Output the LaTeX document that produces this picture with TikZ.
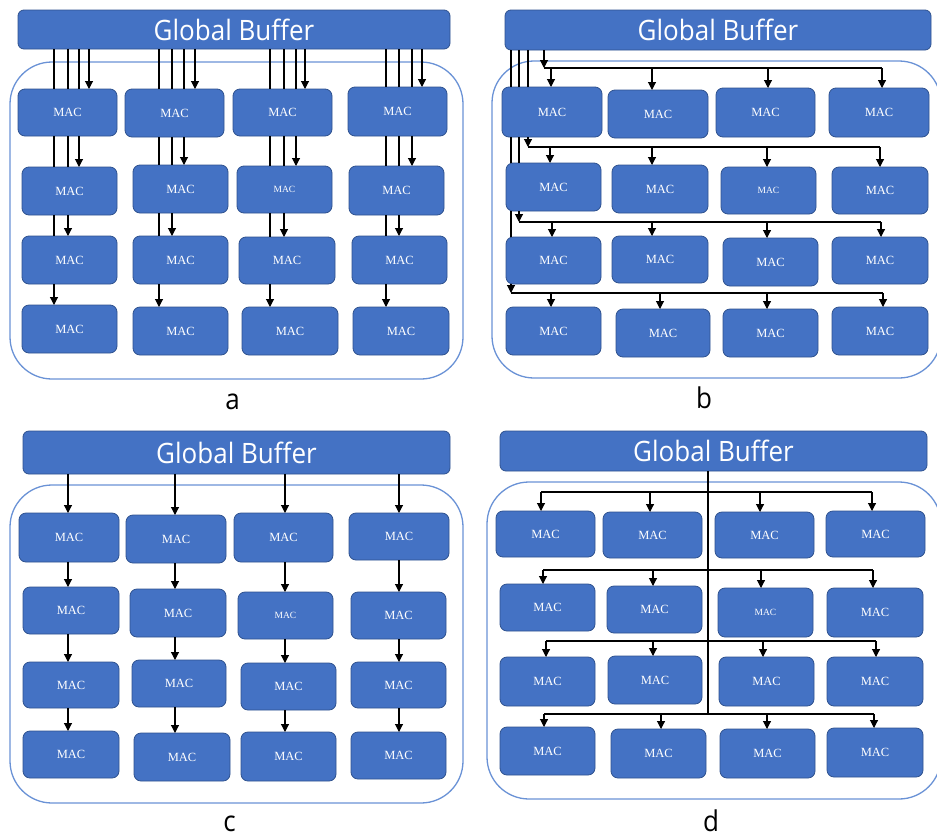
\documentclass[tikz,border=0pt]{standalone}
\usepackage{fontspec}
\setmainfont{Liberation Serif}
\newfontfamily\uisans{Open Sans}
\usetikzlibrary{arrows.meta}

\definecolor{macblue}{HTML}{4472C4}
\definecolor{macedge}{HTML}{2F528F}
\definecolor{framecol}{HTML}{6A92D6}

\tikzset{
  mac/.style={draw=macedge, line width=0.8pt, fill=macblue, rounded corners=7pt,
    text=white, inner sep=0pt, outer sep=0pt, font=\fontsize{12.5}{14}\selectfont},
  smallmac/.style={font=\fontsize{9.5}{11}\selectfont},
  gbuf/.style={draw=macedge, line width=0.8pt, fill=macblue, rounded corners=6pt,
    text=white, inner sep=0pt, outer sep=0pt},
  array frame/.style={draw=framecol, line width=1.3pt, rounded corners=42pt},
  wire/.style={draw=black, line width=1.1pt},
  feed/.style={wire, -{Triangle[width=8pt,length=8pt]}},
  panel label/.style={inner sep=0pt, anchor=base},
}

% MAC box from its corner coordinates: name, x1, y1, x2, y2
\newcommand\macnode[6][]{%
  \pgfmathsetmacro\mw{#5-#3}\pgfmathsetmacro\mh{#6-#4}%
  \pgfmathsetmacro\mx{(#3+#5)/2}\pgfmathsetmacro\my{(#4+#6)/2}%
  \node[mac,minimum width=\mw pt,minimum height=\mh pt,#1] (#2) at (\mx,\my) {MAC};}
\newcommand\gbtext{\uisans\fontsize{26}{30}\selectfont\scalebox{1}[1.08]{Global Buffer}}
\newcommand\lettertext[1]{\uisans\fontsize{26}{30}\selectfont\scalebox{1}[1.1]{#1}}

\begin{document}
\begin{tikzpicture}[x=1pt, y=-1pt]
\fill[white] (0,0) rectangle (937,836);
\path[use as bounding box, clip] (0,0) rectangle (937,836);

% ---------------- a : one dedicated wire per row ----------------
\draw[array frame] (10,62) rectangle (463,379);
\node[gbuf, minimum width=432pt, minimum height=39pt] (gbA) at (234,29.5) {\gbtext};
\macnode{a11}{18}{89}{117}{136}
\macnode{a12}{125}{89}{224}{137}
\macnode{a13}{233}{89}{332}{136}
\macnode{a14}{348}{87}{447}{136}
\macnode{a21}{22}{167}{117}{215}
\macnode{a22}{133}{165}{228}{213}
\macnode[smallmac]{a23}{237}{166}{332}{213}
\macnode{a24}{349}{166}{444}{215}
\macnode{a31}{22}{236}{117}{284}
\macnode{a32}{133}{236}{228}{284}
\macnode{a33}{239}{237}{335}{284}
\macnode{a34}{352}{236}{447}{284}
\macnode{a41}{22}{305}{117}{353}
\macnode{a42}{133}{307}{228}{355}
\macnode{a43}{242}{307}{338}{355}
\macnode{a44}{353}{307}{449}{355}
\foreach \c/\pa/\pb/\pc/\pd in {1/54/68/79/89, 2/159/172/184/195, 3/270/284/296/305, 4/386/399/412/422}{
  \coordinate (w1) at (\pa,0); \coordinate (w2) at (\pb,0);
  \coordinate (w3) at (\pc,0); \coordinate (w4) at (\pd,0);
  \draw[wire] (gbA.south -| w1) -- (a1\c.north -| w1);
  \draw[wire] (gbA.south -| w2) -- (a1\c.north -| w2);
  \draw[wire] (gbA.south -| w3) -- (a1\c.north -| w3);
  \draw[feed] (gbA.south -| w4) -- (a1\c.north -| w4);
  \draw[wire] (a1\c.south -| w1) -- (a2\c.north -| w1);
  \draw[wire] (a1\c.south -| w2) -- (a2\c.north -| w2);
  \draw[feed] (a1\c.south -| w3) -- (a2\c.north -| w3);
  \draw[wire] (a2\c.south -| w1) -- (a3\c.north -| w1);
  \draw[feed] (a2\c.south -| w2) -- (a3\c.north -| w2);
  \draw[feed] (a3\c.south -| w1) -- (a4\c.north -| w1);
}
\node[panel label] (labA) at (232.5,409) {\lettertext{a}};

% ---------------- b : one bus per row ----------------
\draw[array frame] (492,61) rectangle (941,378);
\node[gbuf, minimum width=426pt, minimum height=40pt] (gbB) at (718,30) {\gbtext};
\macnode{b11}{502}{87}{602}{137}
\macnode{b12}{608}{90}{708}{138}
\macnode{b13}{716}{88}{815}{137}
\macnode{b14}{829}{88}{929}{137}
\macnode{b21}{506}{163}{601}{211}
\macnode{b22}{612}{165}{708}{213}
\macnode[smallmac]{b23}{721}{167}{816}{214}
\macnode{b24}{832}{167}{928}{214}
\macnode{b31}{506}{237}{601}{284}
\macnode{b32}{612}{236}{708}{283}
\macnode{b33}{723}{238}{818}{286}
\macnode{b34}{832}{237}{928}{284}
\macnode{b41}{506}{307}{601}{355}
\macnode{b42}{616}{309}{710}{357}
\macnode{b43}{723}{309}{818}{357}
\macnode{b44}{832}{307}{928}{355}
\coordinate (busB1) at (544,68);
\coordinate (busB2) at (528,147);
\coordinate (busB3) at (519,222);
\coordinate (busB4) at (511,293);
\draw[feed] (gbB.south -| busB1) -- (busB1);
\draw[wire] (gbB.south -| busB2) -- (b11.north -| busB2);
\draw[feed] (b11.south -| busB2) -- (busB2);
\draw[wire] (gbB.south -| busB3) -- (b11.north -| busB3);
\draw[wire] (b11.south -| busB3) -- (b21.north -| busB3);
\draw[feed] (b21.south -| busB3) -- (busB3);
\draw[wire] (gbB.south -| busB4) -- (b11.north -| busB4);
\draw[wire] (b11.south -| busB4) -- (b21.north -| busB4);
\draw[wire] (b21.south -| busB4) -- (b31.north -| busB4);
\draw[feed] (b31.south -| busB4) -- (busB4);
\foreach \r/\ya/\da/\db/\dc/\dd in {1/68/551/652/768/882, 2/147/550/652/767/880, 3/222/552/652/767/881, 4/293/551/660/767/883}{
  \coordinate (be) at (\dd,\ya);
  \draw[wire] (busB\r) -- (be);
  \foreach \j/\dx in {1/\da, 2/\db, 3/\dc, 4/\dd}{
    \coordinate (dp) at (\dx,\ya);
    \draw[feed] (dp) -- (b\r\j.north -| dp);
  }
}
\node[panel label] (labB) at (704,408) {\lettertext{b}};

% ---------------- c : systolic column chains ----------------
\draw[array frame] (10,485) rectangle (463,803);
\node[gbuf, minimum width=427pt, minimum height=43pt] (gbC) at (236.5,452.5) {\gbtext};
\macnode{c11}{19}{513}{119}{562}
\macnode{c12}{126}{515}{226}{563}
\macnode{c13}{234}{513}{333}{562}
\macnode{c14}{349}{513}{449}{560}
\macnode{c21}{23}{587}{119}{634}
\macnode{c22}{130}{589}{226}{637}
\macnode[smallmac]{c23}{238}{592}{333}{639}
\macnode{c24}{351}{592}{446}{639}
\macnode{c31}{23}{662}{119}{708}
\macnode{c32}{132}{660}{226}{707}
\macnode{c33}{241}{663}{336}{710}
\macnode{c34}{351}{662}{446}{708}
\macnode{c41}{23}{731}{119}{778}
\macnode{c42}{134}{733}{230}{781}
\macnode{c43}{241}{732}{336}{781}
\macnode{c44}{351}{732}{446}{779}
\foreach \c/\x in {1/68, 2/175, 3/285, 4/399}{
  \coordinate (cx) at (\x,0);
  \draw[feed] (gbC.south -| cx) -- (c1\c.north -| cx);
  \draw[feed] (c1\c.south -| cx) -- (c2\c.north -| cx);
  \draw[feed] (c2\c.south -| cx) -- (c3\c.north -| cx);
  \draw[feed] (c3\c.south -| cx) -- (c4\c.north -| cx);
}
\node[panel label] (labC) at (229.5,831) {\lettertext{c}};

% ---------------- d : central trunk with row branches ----------------
\draw[array frame] (487,482) rectangle (941,799);
\node[gbuf, minimum width=427pt, minimum height=40pt] (gbD) at (713.5,451) {\gbtext};
\macnode{d11}{496}{511}{595}{557}
\macnode{d12}{603}{512}{702}{558}
\macnode{d13}{715}{512}{814}{558}
\macnode{d14}{826}{511}{925}{557}
\macnode{d21}{500}{584}{595}{631}
\macnode{d22}{607}{586}{702}{633}
\macnode[smallmac]{d23}{718}{588}{813}{637}
\macnode{d24}{827}{588}{923}{637}
\macnode{d31}{500}{657}{595}{706}
\macnode{d32}{608}{656}{702}{704}
\macnode{d33}{719}{657}{814}{706}
\macnode{d34}{827}{657}{923}{706}
\macnode{d41}{500}{727}{595}{775}
\macnode{d42}{611}{729}{706}{778}
\macnode{d43}{720}{729}{815}{778}
\macnode{d44}{827}{728}{923}{777}
\coordinate (trunkEnd) at (708,714);
\draw[wire] (gbD.south -| trunkEnd) -- (trunkEnd);
\foreach \r/\ya/\da/\db/\dc/\dd in {1/492/541/650/760/872, 2/570/543/653/761/873, 3/641/546/653/763/876, 4/714/544/661/767/874}{
  \coordinate (bs) at (\da,\ya);
  \coordinate (be) at (\dd,\ya);
  \draw[wire] (bs) -- (be);
  \foreach \j/\dx in {1/\da, 2/\db, 3/\dc, 4/\dd}{
    \coordinate (dp) at (\dx,\ya);
    \draw[feed] (dp) -- (d\r\j.north -| dp);
  }
}
\node[panel label] (labD) at (711,831) {\lettertext{d}};
\end{tikzpicture}
\end{document}
